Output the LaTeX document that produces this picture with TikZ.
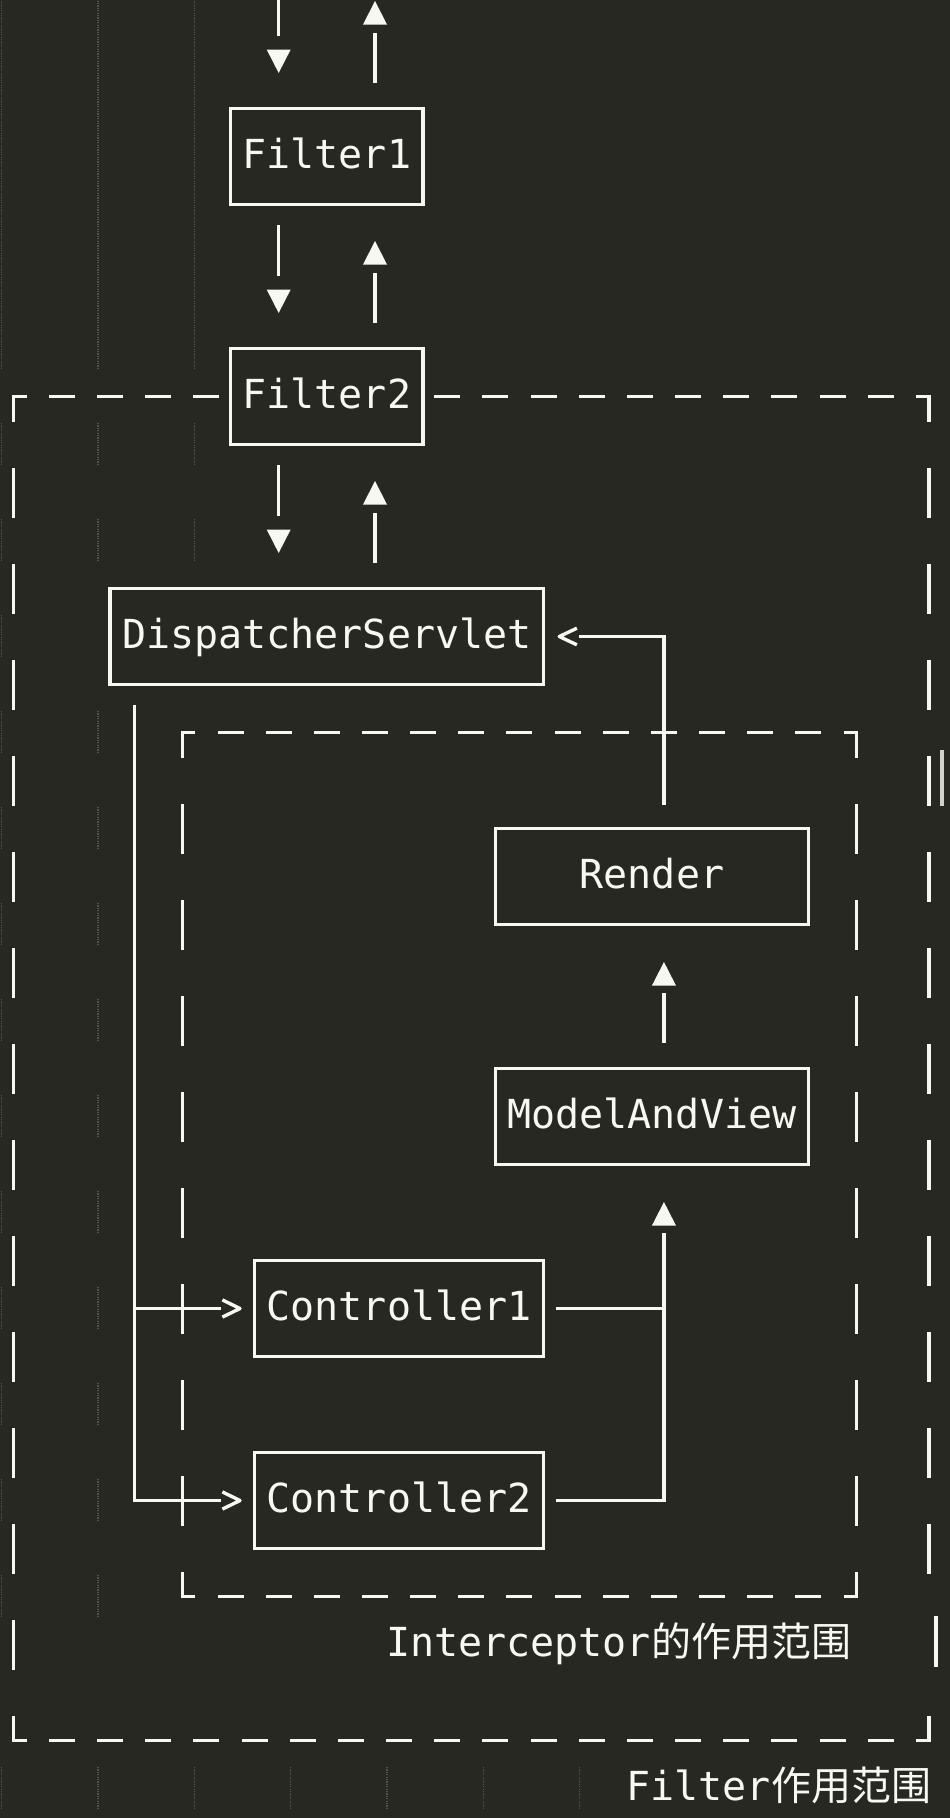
\documentclass[tikz,border=0pt]{standalone}
\usepackage{fontspec}
\setmonofont{DejaVu Sans Mono}
\newfontfamily\cjk{Noto Sans CJK SC}
\usetikzlibrary{calc}
\definecolor{bg}{HTML}{272822}
\definecolor{ink}{HTML}{F8F8F2}
\definecolor{guidegray}{HTML}{54554E}
\definecolor{dimink}{HTML}{D2D2CC}
\newcommand{\downtip}[1]{\fill[ink] (#1) -- ++(-12pt,23.5pt) -- ++(24pt,0pt) -- cycle;}
\newcommand{\uptip}[1]{\fill[ink] (#1) -- ++(-12pt,-23.5pt) -- ++(24pt,0pt) -- cycle;}
\tikzset{
  wire/.style={draw=ink,line width=3.4pt},
  hdash/.style={wire,line cap=rect,dash pattern=on 22.6pt off 25.56pt,dash phase=11.3pt},
  vdash/.style={wire,line cap=rect,dash pattern=on 46.6pt off 49.4pt,dash phase=23.3pt},
  guide/.style={draw=guidegray,line width=1.4pt,dash pattern=on 1.2pt off 1.2pt},
  box/.style={wire,fill=bg,minimum height=96pt,inner sep=0pt,outer sep=0pt,
    text height=23pt,text depth=0pt,text=ink,font=\ttfamily\fontsize{40}{48}\selectfont},
  caption/.style={inner sep=0pt,outer sep=0pt,text=ink,anchor=base east,
    font=\ttfamily\fontsize{40}{48}\selectfont},
}
\begin{document}
\begin{tikzpicture}[x=24.08pt,y=-48pt]
  \useasboundingbox (-13.8pt,12.5pt) rectangle (936.2pt,-1805.5pt);
  \fill[bg] (-13.8pt,12.5pt) rectangle (936.2pt,-1805.5pt);
  \clip (-13.8pt,12.5pt) rectangle (936.2pt,-1805.5pt);
  % indent guides
  \foreach \k in {0,1,2} \draw[guide] (4*\k-0.5,-0.4) -- (4*\k-0.5,7.42);
  \foreach \r/\n in {9/2,11/2,13/0,15/1,17/1,19/1,21/1,23/1,25/1,27/1,29/1,31/1,33/1,37/6}
    \foreach \k in {0,...,\n} \draw[guide] (4*\k-0.5,\r-0.45) -- (4*\k-0.5,\r+0.42);
  % Filter scope
  \draw[hdash] (0,8) -- (38,8);
  \draw[hdash] (0,36) -- (38,36);
  \draw[vdash] (0,8) -- (0,36);
  \draw[vdash] (38,8) -- (38,33.45);
  \draw[vdash] (38,36) -- (38,35.4);
  \draw[wire] (38.3,33.41) -- (38.3,34.47);
  \draw[wire,draw=dimink] (38.55,15.37) -- (38.55,16.53);
  % Interceptor scope
  \draw[hdash] (7,15) -- (35,15);
  \draw[hdash] (7,33) -- (35,33);
  \draw[vdash] (7,15) -- (7,33);
  \draw[vdash] (35,15) -- (35,33);
  % boxes
  \node[box,minimum width=192.64pt] (f1) at (13,3) {Filter1};
  \node[box,minimum width=192.64pt] (f2) at (13,8) {Filter2};
  \node[box,minimum width=433.44pt] (ds) at (13,13) {DispatcherServlet};
  \node[box,minimum width=313.04pt] (render) at (26.5,18) {Render};
  \node[box,minimum width=313.04pt] (mav) at (26.5,23) {ModelAndView};
  \node[box,minimum width=288.96pt] (c1) at (16,27) {Controller1};
  \node[box,minimum width=288.96pt] (c2) at (16,31) {Controller2};
  % request in, response out
  \draw[wire] ([xshift=-48.16pt,yshift=72.5pt]f1.north) -- ++(0pt,60pt);
  \downtip{[xshift=-48.16pt,yshift=35.5pt]f1.north}
  \draw[wire] ([xshift=48.16pt,yshift=25.5pt]f1.north) -- ++(0pt,50pt);
  \uptip{[xshift=48.16pt,yshift=107.5pt]f1.north}
  % filter chain
  \foreach \u/\l in {f1/f2,f2/ds}{
    \draw[wire,shorten <=20.5pt,shorten >=72.5pt] ([xshift=-48.16pt]\u.south) -- ([xshift=-48.16pt]\l.north);
    \downtip{[xshift=-48.16pt,yshift=35.5pt]\l.north}
    \draw[wire,shorten <=25.5pt,shorten >=68.5pt] ([xshift=48.16pt]\l.north) -- ([xshift=48.16pt]\u.south);
    \uptip{[xshift=48.16pt,yshift=-36.5pt]\u.south}
  }
  % dispatch to controllers
  \coordinate (fork) at ([xshift=24.08pt,yshift=-20pt]ds.south west);
  \draw[wire] (fork) |- ([xshift=-34pt]c2.west);
  \draw[wire] (fork |- c1.west) -- ([xshift=-34pt]c1.west);
  \foreach \c in {c1,c2}
    \draw[wire,line join=round] ([shift={(-32.2pt,8.6pt)}]\c.west) -- ([xshift=-14.6pt]\c.west) -- ([shift={(-32.2pt,-8.6pt)}]\c.west);
  % controllers to ModelAndView
  \draw[wire] ([xshift=12pt]c2.east) -| ([xshift=12.04pt,yshift=-68.5pt]mav.south);
  \draw[wire] ([xshift=12pt]c1.east) -- ([xshift=12.04pt]mav.south |- c1.east);
  \uptip{[xshift=12.04pt,yshift=-37.5pt]mav.south}
  % ModelAndView to Render
  \draw[wire,shorten <=25.5pt,shorten >=68.5pt] ([xshift=12.04pt]mav.north) -- ([xshift=12.04pt]render.south);
  \uptip{[xshift=12.04pt,yshift=-37.5pt]render.south}
  % Render back to DispatcherServlet
  \draw[wire,shorten <=24pt,shorten >=35.4pt] ([xshift=12.04pt]render.north) |- (ds.east);
  \draw[wire,line join=round] ([shift={(33.3pt,8.3pt)}]ds.east) -- ([xshift=15.7pt]ds.east) -- ([shift={(33.3pt,-8.3pt)}]ds.east);
  % scope captions
  \node[caption] (ilabel) at (34.77,34.24) {Interceptor{\cjk 的作用范围}};
  \node[caption] (flabel) at (38.09,37.24) {Filter{\cjk 作用范围}};
\end{tikzpicture}
\end{document}
